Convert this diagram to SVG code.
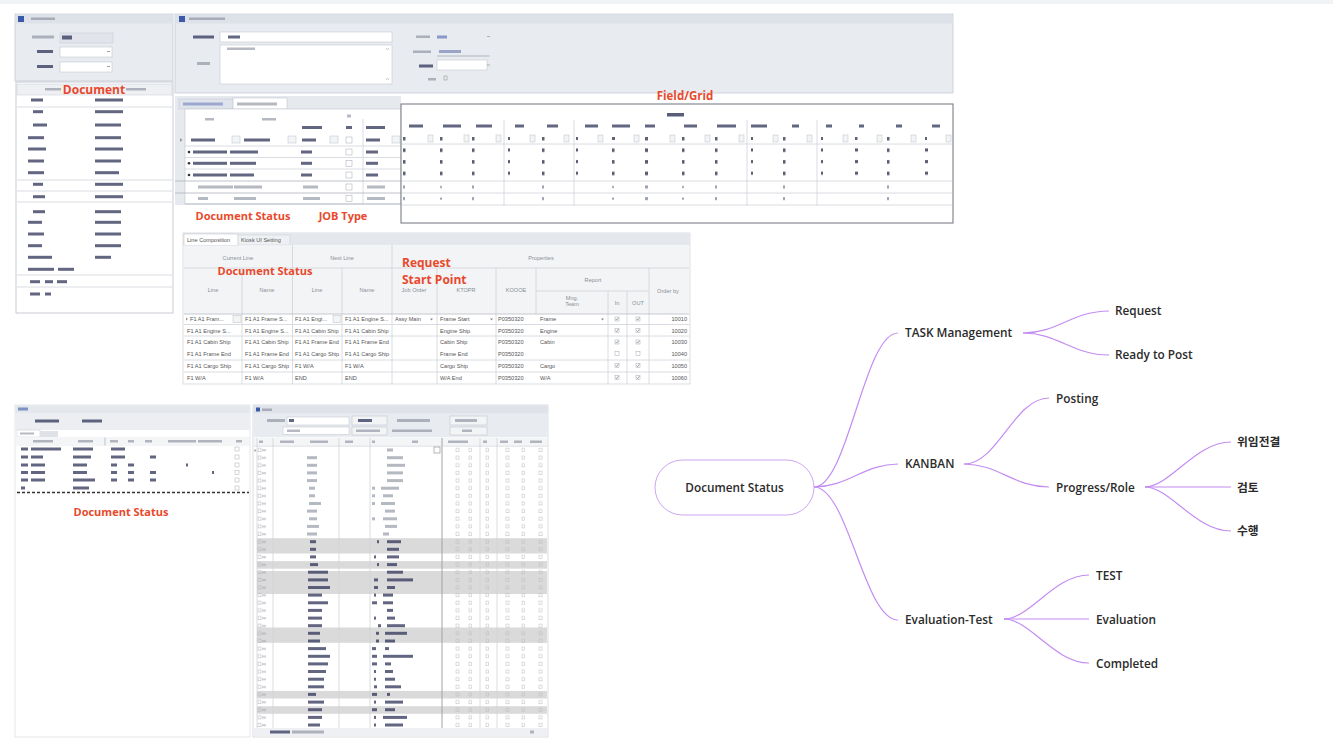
<svg xmlns="http://www.w3.org/2000/svg" xmlns:xlink="http://www.w3.org/1999/xlink" width="1333" height="749" viewBox="0 0 1333 749">
<style>
.b{fill:#7a8090;opacity:.55}
.bd{fill:#2e3458;opacity:.75}
.bl{fill:#9aa0ab;opacity:.4}
.ln{stroke:#cfd3d9;stroke-width:.8;fill:none}
.lnd{stroke:#aeb3bb;stroke-width:.8;fill:none}
.pan{fill:#e8ebf0;stroke:#c5cad3;stroke-width:.8}
.hdr{fill:#dde1e8}
.wbox{fill:#fff;stroke:#c3c8d0;stroke-width:.6}
.dd{fill:#f3f4f6;stroke:#b9bec7;stroke-width:.5}
.cb{fill:#fff;stroke:#a3a8b1;stroke-width:.5}
.red{font-family:"Open Sans","Liberation Sans",sans-serif;font-weight:700;fill:#e8492c}
.t{font-family:"Liberation Sans",Arial,sans-serif;font-size:5.6px;fill:#555}
.th{font-family:"Liberation Sans",Arial,sans-serif;font-size:5.6px;fill:#8a8f97}
.mm{font-family:"Open Sans","Noto Sans CJK KR",sans-serif;font-weight:600;font-size:11.8px;fill:#2b2b2b}
.cn{fill:none;stroke:#c38cf2;stroke-width:1.2}
</style>
<defs>
<g id="ck"><rect x="-2" y="-2" width="4" height="4" class="cb"/><polyline points="-1.3,0 -0.3,1.1 1.4,-1.3" fill="none" stroke="#666" stroke-width=".6"/></g>
<pattern id="brow" x="253" y="446.2" width="295" height="7.64" patternUnits="userSpaceOnUse">
<rect x="5" y="2" width="3" height="3.5" fill="none" stroke="#a9aeb6" stroke-width=".5"/>
<rect x="9" y="3" width="4" height="2" fill="#9aa0ab" opacity=".5"/>
<rect x="203" y="2" width="3" height="3.5" fill="none" stroke="#b5bac2" stroke-width=".5"/>
<rect x="216" y="2" width="2.5" height="3.5" fill="none" stroke="#b5bac2" stroke-width=".5"/>
<rect x="233" y="2" width="2.5" height="3.5" fill="none" stroke="#b5bac2" stroke-width=".5"/>
<rect x="253" y="2" width="3" height="3.5" fill="none" stroke="#b5bac2" stroke-width=".5"/>
<rect x="269" y="2" width="2.5" height="3.5" fill="none" stroke="#b5bac2" stroke-width=".5"/>
<rect x="286" y="2" width="3" height="3.5" fill="none" stroke="#b5bac2" stroke-width=".5"/>
</pattern>
<pattern id="fgr" x="401" y="144.5" width="552" height="11.6" patternUnits="userSpaceOnUse">
<g fill="#2b2f4a" opacity=".8">
<rect x="2" y="4" width="2.5" height="3.5"/><rect x="39" y="4" width="2.5" height="3.5"/><rect x="71" y="4" width="2.5" height="3.5"/><rect x="107" y="4" width="2" height="3"/><rect x="141" y="4" width="2.5" height="3.5"/><rect x="175" y="4" width="2" height="3"/><rect x="211" y="4" width="2.5" height="3.5"/><rect x="244" y="4" width="3" height="3.5"/><rect x="281" y="4" width="2.5" height="3.5"/><rect x="314" y="4" width="2.5" height="3.5"/><rect x="350" y="4" width="2" height="3"/><rect x="382" y="4" width="2.5" height="3.5"/><rect x="420" y="4" width="2" height="3"/><rect x="454" y="4" width="3" height="3"/><rect x="486" y="4" width="2.5" height="3.5"/><rect x="524" y="4" width="3" height="3"/>
</g>
</pattern>
<pattern id="fgr2" x="401" y="181.5" width="552" height="11.6" patternUnits="userSpaceOnUse">
<g fill="#4a5070" opacity=".55">
<rect x="2" y="4" width="2" height="3"/><rect x="39" y="4.5" width="2" height="2"/><rect x="71" y="4" width="2" height="3"/><rect x="141" y="4" width="2" height="3"/><rect x="211" y="4.5" width="2" height="2"/><rect x="244" y="4" width="3" height="3"/><rect x="281" y="4.5" width="2" height="2"/><rect x="314" y="4" width="2" height="3"/><rect x="382" y="4" width="2" height="3"/><rect x="486" y="4" width="2" height="3"/>
</g>
</pattern>
</defs>

<rect x="0" y="0" width="1333" height="749" fill="#fff"/>
<rect x="0" y="0" width="1333" height="4" fill="#f2f3f4"/>

<!-- ===== top-left filter panel ===== -->
<g id="screen-top-left">
<rect x="15" y="14" width="158" height="67" class="pan"/>
<rect x="15.4" y="14.4" width="157.2" height="9" class="hdr"/>
<rect x="18" y="16" width="6" height="6" fill="#3a5aa8"/>
<rect x="31" y="17.5" width="24" height="2.5" class="b"/>
<rect x="32" y="35.5" width="22" height="3" class="b"/>
<rect x="60" y="33" width="53" height="10" fill="#e1e5eb" stroke="#c3c8d0" stroke-width=".5"/>
<rect x="62" y="35.5" width="10" height="4" class="bd"/>
<rect x="37" y="50" width="16" height="3" class="bd"/>
<rect x="60" y="47" width="52" height="10" class="wbox"/>
<path d="M107,51.5h3" stroke="#888" stroke-width=".8"/>
<rect x="37" y="65" width="16" height="3" class="bd"/>
<rect x="60" y="62" width="52" height="10" class="wbox"/>
<path d="M107,66.5h3" stroke="#888" stroke-width=".8"/>
</g>

<!-- ===== top-left list panel ===== -->
<g id="screen-list">
<rect x="16" y="82" width="157" height="231" fill="#fff" stroke="#b9bfc9" stroke-width=".8"/>
<rect x="17" y="84" width="155" height="11" fill="#eef0f3" stroke="#c8ccd4" stroke-width=".5"/>
<rect x="45" y="88" width="16" height="2.5" class="b"/>
<rect x="126" y="88" width="20" height="2.5" class="b"/>
<g class="ln"><path d="M17,107h155M17,180h155M17,191h155M17,202h155M17,275h155M17,287h155"/></g>
<g class="bd">
<rect x="31" y="98.5" width="12" height="3"/><rect x="95" y="98.5" width="28" height="3"/>
<rect x="33" y="110.2" width="10" height="3"/><rect x="95" y="110.2" width="28" height="3"/>
<rect x="33" y="123.5" width="14" height="3"/><rect x="95" y="123.5" width="26" height="3"/>
<rect x="28" y="136.2" width="16" height="3"/><rect x="95" y="136.2" width="26" height="3"/>
<rect x="28" y="147.5" width="18" height="3"/><rect x="95" y="147.5" width="28" height="3"/>
<rect x="28" y="159.5" width="16" height="3"/><rect x="95" y="159.5" width="26" height="3"/>
<rect x="28" y="171.2" width="16" height="3"/><rect x="95" y="171.2" width="24" height="3"/>
<rect x="33" y="182.8" width="10" height="3"/><rect x="95" y="182.8" width="28" height="3"/>
<rect x="33" y="195.2" width="12" height="3"/><rect x="95" y="195.2" width="28" height="3"/>
<rect x="33" y="210.2" width="12" height="3"/><rect x="95" y="210.2" width="26" height="3"/>
<rect x="28" y="220.8" width="14" height="3"/><rect x="95" y="220.8" width="26" height="3"/>
<rect x="28" y="232.5" width="16" height="3"/><rect x="95" y="232.5" width="26" height="3"/>
<rect x="28" y="244.2" width="14" height="3"/><rect x="95" y="244.2" width="26" height="3"/>
<rect x="28" y="255.8" width="24" height="3"/><rect x="95" y="255.8" width="16" height="3"/>
<rect x="28" y="267.8" width="26" height="3"/><rect x="58" y="267.8" width="16" height="3"/>
<rect x="30" y="280.2" width="10" height="3"/><rect x="45" y="280.2" width="8" height="3"/><rect x="57" y="280.2" width="10" height="3"/>
<rect x="30" y="292.5" width="10" height="3"/><rect x="45" y="292.5" width="6" height="3"/>
</g>
</g>

<!-- ===== top-middle form panel ===== -->
<g id="screen-form">
<rect x="175" y="14" width="778" height="79" class="pan"/>
<rect x="175.4" y="14.4" width="777.2" height="9" class="hdr"/>
<rect x="179" y="16" width="6" height="6" fill="#3a5aa8"/>
<rect x="189" y="17.5" width="36" height="2.5" class="b"/>
<rect x="193" y="35.5" width="21" height="3" class="bd"/>
<rect x="220" y="32" width="172" height="10" class="wbox"/>
<rect x="228" y="35.5" width="12" height="3" class="bd"/>
<rect x="220" y="45" width="172" height="39" class="wbox"/>
<rect x="227" y="47.5" width="28" height="2.5" class="b"/>
<path d="M386,48l1.5,2 1.5,-2M386,80l1.5,-2 1.5,2" stroke="#aaa" stroke-width=".6" fill="none"/>
<rect x="197" y="62" width="13" height="3" class="b"/>
<rect x="416" y="35.5" width="14" height="2.5" class="b"/>
<rect x="437" y="35.5" width="10" height="3" fill="#4b5fb0" opacity=".6"/>
<path d="M487,36.5h3" stroke="#999" stroke-width=".7"/>
<rect x="413" y="50.5" width="18" height="2.5" class="b"/>
<rect x="439" y="50" width="22" height="3" fill="#5a6aa8" opacity=".55"/>
<path d="M437,56h53" stroke="#8c93a3" stroke-width=".6"/>
<rect x="419" y="64.5" width="14" height="3" class="bd"/>
<rect x="437" y="60" width="50" height="10" class="wbox"/>
<path d="M487,65h3" stroke="#999" stroke-width=".7"/>
<rect x="428" y="78" width="8" height="2.5" class="b"/>
<rect x="444" y="76" width="3" height="4" fill="none" stroke="#888" stroke-width=".5"/>
</g>

<!-- ===== job grid ===== -->
<g id="screen-jobgrid">
<rect x="175" y="96" width="226" height="13" fill="#e6e9ee"/>
<rect x="175" y="109" width="10" height="96" fill="#e6e9ee"/>
<rect x="179" y="99" width="54" height="10" fill="#dfe4ec" stroke="#c3c8d0" stroke-width=".5"/>
<rect x="183" y="102.5" width="40" height="3" fill="#4b5fb0" opacity=".45"/>
<rect x="233" y="98" width="54" height="11" fill="#fff" stroke="#b9bec7" stroke-width=".5"/>
<rect x="237" y="102.5" width="40" height="3" class="b"/>
<rect x="185" y="109" width="216" height="95" fill="#fff" stroke="#c0c5cd" stroke-width=".6"/>
<g class="b">
<rect x="205" y="118" width="9" height="2.5"/><rect x="262" y="118" width="14" height="2.5"/>
<rect x="347" y="114.5" width="4" height="3"/>
</g>
<g class="bd">
<rect x="302" y="126" width="20" height="3"/><rect x="346" y="126" width="6" height="3"/><rect x="366" y="126" width="19" height="3"/>
</g>
<g class="ln"><path d="M363,119v85M185,146h216M185,157.5h216M185,169h216"/></g>
<g class="lnd"><path d="M175,181h226M175,193h226M185,204h216"/></g>
<path d="M180,138l2.5,2-2.5,2z" fill="#999"/>
<g class="bd">
<rect x="191" y="138.5" width="24" height="3"/><rect x="244" y="138.5" width="26" height="3"/><rect x="302" y="138.5" width="14" height="3"/><rect x="366" y="138.5" width="14" height="3"/>
</g>
<g class="dd"><rect x="232" y="136" width="8" height="7"/><rect x="288" y="136" width="8" height="7"/><rect x="330" y="136" width="8" height="7"/><rect x="392" y="136" width="8" height="7"/></g>
<rect x="346" y="137" width="6" height="6" class="cb"/>
<g fill="#333"><circle cx="189" cy="152" r="1.3"/><circle cx="189" cy="163.3" r="1.3"/><circle cx="189" cy="175" r="1.3"/></g>
<g class="bd">
<rect x="193" y="150.5" width="34" height="3"/><rect x="230" y="150.5" width="28" height="3"/><rect x="301" y="150.5" width="11" height="3"/><rect x="366" y="150.5" width="12" height="3"/>
<rect x="193" y="161.8" width="34" height="3"/><rect x="230" y="161.8" width="26" height="3"/><rect x="301" y="161.8" width="11" height="3"/><rect x="366" y="161.8" width="12" height="3"/>
<rect x="193" y="173.5" width="34" height="3"/><rect x="230" y="173.5" width="24" height="3"/><rect x="301" y="173.5" width="11" height="3"/><rect x="366" y="173.5" width="12" height="3"/>
</g>
<g class="b">
<rect x="198" y="185.5" width="35" height="3"/><rect x="234" y="185.5" width="28" height="3"/><rect x="303" y="185.5" width="15" height="3"/><rect x="367" y="185.5" width="18" height="3"/>
<rect x="198" y="197" width="10" height="3"/><rect x="234" y="197" width="22" height="3"/><rect x="303" y="197" width="17" height="3"/><rect x="367" y="197" width="18" height="3"/>
</g>
<g class="cb"><rect x="346" y="149" width="6" height="6"/><rect x="346" y="160.5" width="6" height="6"/><rect x="346" y="172" width="6" height="6"/><rect x="346" y="184" width="6" height="6"/><rect x="346" y="195.5" width="6" height="6"/></g>
</g>

<!-- ===== field/grid ===== -->
<g id="screen-fieldgrid">
<rect x="401" y="104" width="552" height="119" fill="#fff" stroke="#7a7f88" stroke-width="1.1"/>
<rect x="667" y="113" width="17" height="3.5" fill="#2e3458" opacity=".8"/>
<g class="bd" opacity=".6">
<rect x="409" y="124.5" width="14" height="3"/><rect x="443" y="124.5" width="18" height="3"/><rect x="476" y="124.5" width="16" height="3"/>
<rect x="515" y="124.5" width="9" height="3"/><rect x="547" y="124.5" width="11" height="3"/>
<rect x="585" y="124.5" width="13" height="3"/><rect x="612" y="124.5" width="18" height="3"/><rect x="645" y="124.5" width="10" height="3"/><rect x="684" y="124.5" width="13" height="3"/><rect x="717" y="124.5" width="19" height="3"/>
<rect x="751" y="124.5" width="16" height="3"/><rect x="792" y="124.5" width="7" height="3"/>
<rect x="826" y="124.5" width="6" height="3"/><rect x="859" y="124.5" width="5" height="3"/><rect x="896" y="124.5" width="6" height="3"/><rect x="932" y="124.5" width="8" height="3"/>
</g>
<g class="ln"><path d="M504,120v86M574,120v86M747,120v86M817,120v86M402,144h550M402,181h550M402,193h550M402,205h550"/></g>
<g fill="#2b2f4a" opacity=".75">
<rect x="403" y="137" width="2.5" height="3.5"/><rect x="440" y="137" width="2.5" height="3.5"/><rect x="472" y="137" width="2.5" height="3.5"/><rect x="508" y="137" width="2" height="3"/><rect x="542" y="137" width="2.5" height="3.5"/><rect x="576" y="137" width="2" height="3"/><rect x="612" y="137" width="3" height="3"/><rect x="645" y="137" width="3" height="3.5"/><rect x="682" y="137" width="2.5" height="3.5"/><rect x="715" y="137" width="2.5" height="3.5"/><rect x="751" y="137" width="2" height="3"/><rect x="783" y="137" width="2.5" height="3.5"/><rect x="821" y="137" width="2" height="3"/><rect x="855" y="137" width="2.5" height="3"/><rect x="887" y="137" width="2.5" height="3.5"/><rect x="925" y="137" width="2" height="3"/>
</g>
<g class="dd">
<rect x="428" y="135" width="5" height="7"/><rect x="464" y="135" width="5" height="7"/><rect x="496" y="135" width="5" height="7"/><rect x="530" y="135" width="5" height="7"/><rect x="564" y="135" width="5" height="7"/><rect x="598" y="135" width="5" height="7"/><rect x="634" y="135" width="5" height="7"/><rect x="670" y="135" width="5" height="7"/><rect x="705" y="135" width="5" height="7"/><rect x="739" y="135" width="5" height="7"/><rect x="773" y="135" width="5" height="7"/><rect x="807" y="135" width="5" height="7"/><rect x="843" y="135" width="5" height="7"/><rect x="877" y="135" width="5" height="7"/><rect x="911" y="135" width="5" height="7"/><rect x="946" y="135" width="5" height="7"/>
</g>
<rect x="401.5" y="144.5" width="551" height="34.8" fill="url(#fgr)"/>
<rect x="401.5" y="181.5" width="551" height="23.2" fill="url(#fgr2)"/>
</g>

<!-- ===== line composition panel ===== -->
<g id="screen-linecomp">
<rect x="183" y="233" width="507" height="151" fill="#fff" stroke="#c0c5cd" stroke-width=".6"/>
<rect x="183.3" y="233.3" width="506.4" height="12" fill="#e4e7ec"/>
<rect x="184" y="234" width="54" height="11.5" fill="#fff" stroke="#b9bec7" stroke-width=".5"/>
<text x="187" y="242" class="t">Line Composition</text>
<rect x="238" y="235" width="52" height="10" fill="#eef0f3" stroke="#c9cdd4" stroke-width=".5"/>
<text x="241" y="242" class="t">Kiosk UI Setting</text>
<rect x="184" y="245.5" width="505" height="68.5" fill="#f3f4f6"/>
<g class="ln">
<path d="M242,268v116M292.5,245v139M342,268v116M392,245v139M437,268v116M496,268v116M536,268v46M608,291v93M627,291v93M649,268v116"/>
<path d="M184,268h505M536,291h113"/>
<path d="M184,324.5h505M184,336h505M184,360h505M184,372h505"/>
</g>
<path d="M184,314h505" stroke="#b7bcc4" stroke-width=".8"/>
<g class="th" text-anchor="middle">
<text x="238" y="260">Current Line</text><text x="342" y="260">Next Line</text><text x="541" y="260">Properties</text>
<text x="593" y="282">Report</text>
<text x="213" y="292">Line</text><text x="267" y="292">Name</text><text x="317" y="292">Line</text><text x="367" y="292">Name</text>
<text x="414" y="292">Job Order</text><text x="466" y="292">KTOPR</text><text x="516" y="292">KOOOE</text>
<text x="572" y="300">Mng.</text><text x="572" y="306">Team</text>
<text x="617" y="305">In</text><text x="638" y="305">OUT</text><text x="668" y="293">Order by</text>
</g>
<path d="M186,317.5l2,1.5-2,1.5z" fill="#999"/>
<g class="dd"><rect x="233" y="315.5" width="8" height="7"/><rect x="333" y="315.5" width="8" height="7"/></g>
<g class="t">
<text x="190" y="321">F1 A1 Fram...</text><text x="245" y="321">F1 A1 Frame S...</text><text x="295" y="321">F1 A1 Engi...</text><text x="345" y="321">F1 A1 Engine S...</text><text x="395" y="321">Assy Main</text><text x="440" y="321">Frame Start</text><text x="498" y="321">P0350320</text><text x="540" y="321">Frame</text>
<text x="187" y="332.5">F1 A1 Engine S...</text><text x="245" y="332.5">F1 A1 Engine S...</text><text x="295" y="332.5">F1 A1 Cabin Ship</text><text x="345" y="332.5">F1 A1 Cabin Ship</text><text x="440" y="332.5">Engine Ship</text><text x="498" y="332.5">P0350320</text><text x="540" y="332.5">Engine</text>
<text x="187" y="344">F1 A1 Cabin Ship</text><text x="245" y="344">F1 A1 Cabin Ship</text><text x="295" y="344">F1 A1 Frame End</text><text x="345" y="344">F1 A1 Frame End</text><text x="440" y="344">Cabin Ship</text><text x="498" y="344">P0350320</text><text x="540" y="344">Cabin</text>
<text x="187" y="355.5">F1 A1 Frame End</text><text x="245" y="355.5">F1 A1 Frame End</text><text x="295" y="355.5">F1 A1 Cargo Ship</text><text x="345" y="355.5">F1 A1 Cargo Ship</text><text x="440" y="355.5">Frame End</text><text x="498" y="355.5">P0350320</text>
<text x="187" y="367.5">F1 A1 Cargo Ship</text><text x="245" y="367.5">F1 A1 Cargo Ship</text><text x="295" y="367.5">F1 W/A</text><text x="345" y="367.5">F1 W/A</text><text x="440" y="367.5">Cargo Ship</text><text x="498" y="367.5">P0350320</text><text x="540" y="367.5">Cargo</text>
<text x="187" y="379.5">F1 W/A</text><text x="245" y="379.5">F1 W/A</text><text x="295" y="379.5">END</text><text x="345" y="379.5">END</text><text x="440" y="379.5">W/A End</text><text x="498" y="379.5">P0350320</text><text x="540" y="379.5">W/A</text>
</g>
<g class="t" text-anchor="end">
<text x="687" y="321">10010</text><text x="687" y="332.5">10020</text><text x="687" y="344">10030</text><text x="687" y="355.5">10040</text><text x="687" y="367.5">10050</text><text x="687" y="379.5">10060</text>
</g>
<g fill="#888"><path d="M430,318.5h3l-1.5,2z"/><path d="M490,318.5h3l-1.5,2z"/><path d="M601,318.5h3l-1.5,2z"/></g>
<use href="#ck" x="617" y="319"/><use href="#ck" x="638" y="319"/>
<use href="#ck" x="617" y="330.5"/><use href="#ck" x="638" y="330.5"/>
<use href="#ck" x="617" y="342"/><use href="#ck" x="638" y="342"/>
<rect x="615" y="351.5" width="4" height="4" class="cb"/><rect x="636" y="351.5" width="4" height="4" class="cb"/>
<use href="#ck" x="617" y="365.5"/><use href="#ck" x="638" y="365.5"/>
<use href="#ck" x="617" y="377.5"/><use href="#ck" x="638" y="377.5"/>
</g>

<!-- ===== bottom-left panel ===== -->
<g id="screen-bottom-left">
<rect x="15" y="405" width="235" height="332" fill="#fff" stroke="#d3d7dc" stroke-width=".6"/>
<rect x="15.3" y="405.3" width="234.4" height="8" fill="#e4e7ec"/>
<rect x="18" y="407.5" width="10" height="3" fill="#3a5aa8" opacity=".6"/>
<rect x="15.3" y="413" width="234.4" height="17" fill="#eceef1"/>
<rect x="35" y="419.5" width="24" height="3" class="bd"/>
<rect x="82" y="419.5" width="20" height="3" class="bd"/>
<rect x="17" y="430" width="23" height="7" fill="#fff" stroke="#c3c8d0" stroke-width=".5"/>
<rect x="20" y="432.5" width="14" height="2" class="b"/>
<rect x="40" y="431" width="18" height="6" fill="#dfe2e7"/>
<rect x="16" y="437" width="233" height="9" fill="#f4f5f7"/>
<path d="M105,437.5v8" class="lnd"/>
<g class="b">
<rect x="33" y="440" width="20" height="2.5"/><rect x="78" y="440" width="15" height="2.5"/><rect x="110" y="440" width="8" height="2.5"/><rect x="128" y="440" width="6" height="2.5"/><rect x="145" y="440" width="7" height="2.5"/><rect x="168" y="440" width="28" height="2.5"/><rect x="198" y="440" width="24" height="2.5"/><rect x="236" y="440" width="6" height="2.5"/>
</g>
<g class="bd" opacity=".55">
<rect x="21" y="447.5" width="7" height="3"/><rect x="31" y="447.5" width="30" height="3"/><rect x="73" y="447.5" width="20" height="3"/><rect x="111" y="447.5" width="14" height="3"/>
<rect x="21" y="455.5" width="7" height="3"/><rect x="31" y="455.5" width="12" height="3"/><rect x="73" y="455.5" width="18" height="3"/><rect x="111" y="455.5" width="14" height="3"/><rect x="150" y="455.5" width="6" height="3"/>
<rect x="21" y="463.5" width="7" height="3"/><rect x="31" y="463.5" width="14" height="3"/><rect x="73" y="463.5" width="14" height="3"/><rect x="111" y="463.5" width="6" height="3"/><rect x="128" y="463.5" width="6" height="3"/><rect x="186" y="463.5" width="2" height="3"/>
<rect x="21" y="471" width="7" height="3"/><rect x="31" y="471" width="14" height="3"/><rect x="73" y="471" width="14" height="3"/><rect x="111" y="471" width="6" height="3"/><rect x="128" y="471" width="6" height="3"/><rect x="150" y="471" width="6" height="3"/><rect x="212" y="471" width="2" height="3"/>
<rect x="21" y="478.5" width="7" height="3"/><rect x="31" y="478.5" width="14" height="3"/><rect x="73" y="478.5" width="22" height="3"/><rect x="111" y="478.5" width="6" height="3"/><rect x="128" y="478.5" width="6" height="3"/><rect x="150" y="478.5" width="6" height="3"/>
<rect x="21" y="486.5" width="4" height="3"/><rect x="73" y="486.5" width="16" height="3"/>
</g>
<g fill="none" stroke="#a9aeb6" stroke-width=".5">
<rect x="235" y="447" width="4" height="4"/><rect x="235" y="455" width="4" height="4"/><rect x="235" y="463" width="4" height="4"/><rect x="235" y="470.5" width="4" height="4"/><rect x="235" y="478" width="4" height="4"/><rect x="235" y="486" width="4" height="4"/>
</g>
<path d="M17,492.5h232" stroke="#333" stroke-width="1.3" stroke-dasharray="3,2"/>
</g>

<!-- ===== bottom-right panel ===== -->
<g id="screen-bottom-right">
<rect x="253" y="405" width="295" height="332" fill="#fff" stroke="#c0c5cd" stroke-width=".6"/>
<rect x="253.3" y="405.3" width="294.4" height="32" fill="#e8ebf0"/>
<rect x="253.3" y="405.3" width="294.4" height="8" fill="#dfe3e9"/>
<rect x="256" y="407.5" width="4" height="4" fill="#3a5aa8"/>
<rect x="262" y="408.5" width="10" height="2.5" class="b"/>
<rect x="267" y="419" width="18" height="3" class="b"/>
<rect x="287" y="417" width="62" height="8" class="wbox"/>
<rect x="289" y="419" width="5" height="3" class="bd"/>
<rect x="352" y="416" width="35" height="9" class="dd"/>
<rect x="358" y="419" width="14" height="3" class="bd"/>
<rect x="397" y="419" width="33" height="3" class="b"/>
<rect x="450" y="416" width="37" height="9" class="dd"/>
<rect x="455" y="419" width="22" height="3" class="b"/>
<rect x="283" y="427" width="66" height="7.5" class="wbox"/>
<rect x="287" y="429.5" width="13" height="2.5" class="b"/>
<rect x="352" y="427" width="35" height="8" class="dd"/>
<rect x="356" y="429.5" width="24" height="2.5" class="b"/>
<rect x="392" y="429.5" width="40" height="2.5" class="b"/>
<rect x="450" y="427" width="37" height="8" class="dd"/>
<rect x="462" y="429.5" width="10" height="2.5" class="b"/>
<rect x="254" y="438" width="293" height="8" fill="#f4f5f7"/>
<g class="b">
<rect x="259" y="440.5" width="4" height="2.5"/><rect x="280" y="440.5" width="14" height="2.5"/><rect x="310" y="440.5" width="18" height="2.5"/><rect x="345" y="440.5" width="8" height="2.5"/><rect x="372" y="440.5" width="3" height="2.5"/><rect x="412" y="440.5" width="6" height="2.5"/><rect x="448" y="440.5" width="20" height="2.5"/><rect x="483" y="440.5" width="4" height="2.5"/><rect x="500" y="440.5" width="8" height="2.5"/><rect x="514" y="440.5" width="8" height="2.5"/><rect x="530" y="440.5" width="12" height="2.5"/>
</g>
<g fill="#dadada">
<rect x="257" y="538.2" width="290" height="15.3"/>
<rect x="257" y="561.1" width="290" height="7.6"/>
<rect x="257" y="571" width="290" height="23"/>
<rect x="257" y="627.5" width="290" height="15.3"/>
<rect x="257" y="690.9" width="290" height="7.6"/>
<rect x="257" y="706.2" width="290" height="7.6"/>
</g>
<rect x="257" y="446.2" width="290" height="282" fill="url(#brow)"/>
<g class="ln"><path d="M257,438v290M273,438v290M339,438v290M370,438v290M480,438v290M497,438v290"/></g>
<path d="M442,438v290" stroke="#9ea3ab" stroke-width="1"/>
<path d="M254,446.2h293" stroke="#c8ccd3" stroke-width=".6"/>
<path d="M254.5,449l2,1.5-2,1.5z" fill="#999"/>
<rect x="434" y="447" width="6" height="6" fill="none" stroke="#888" stroke-width=".6"/>
<g class="b" opacity=".4">
<rect x="387" y="448.5" width="6" height="3"/>
<rect x="307" y="456.2" width="10" height="3"/><rect x="387" y="456.2" width="16" height="3"/>
<rect x="307" y="463.8" width="10" height="3"/><rect x="387" y="463.8" width="18" height="3"/>
<rect x="307" y="471.4" width="10" height="3"/><rect x="387" y="471.4" width="16" height="3"/>
<rect x="307" y="479.1" width="10" height="3"/><rect x="387" y="479.1" width="16" height="3"/>
<rect x="309" y="486.7" width="6" height="3"/><rect x="372" y="486.7" width="3" height="3"/><rect x="381" y="486.7" width="18" height="3"/>
<rect x="309" y="494.3" width="6" height="3"/><rect x="372" y="494.3" width="3" height="3"/><rect x="383" y="494.3" width="10" height="3"/>
<rect x="309" y="502" width="12" height="3"/><rect x="372" y="502" width="3" height="3"/><rect x="381" y="502" width="14" height="3"/>
<rect x="307" y="509.6" width="10" height="3"/><rect x="385" y="509.6" width="10" height="3"/>
<rect x="309" y="517.3" width="8" height="3"/><rect x="372" y="517.3" width="3" height="3"/><rect x="383" y="517.3" width="14" height="3"/>
<rect x="307" y="524.9" width="12" height="3"/><rect x="385" y="524.9" width="12" height="3"/>
<rect x="307" y="532.5" width="10" height="3"/><rect x="383" y="532.5" width="6" height="3"/>
</g>
<g class="bd" opacity=".45">
<rect x="310" y="540.2" width="6" height="3"/><rect x="377" y="540.2" width="2" height="3"/><rect x="387" y="540.2" width="14" height="3"/>
<rect x="310" y="547.8" width="6" height="3"/><rect x="387" y="547.8" width="12" height="3"/>
<rect x="310" y="555.4" width="6" height="3"/><rect x="374" y="555.4" width="2" height="3"/><rect x="387" y="555.4" width="12" height="3"/>
<rect x="310" y="563.1" width="8" height="3"/><rect x="377" y="563.1" width="2" height="3"/><rect x="387" y="563.1" width="10" height="3"/>
<rect x="308" y="570.7" width="20" height="3"/><rect x="387" y="570.7" width="16" height="3"/>
<rect x="308" y="578.4" width="20" height="3"/><rect x="374" y="578.4" width="4" height="3"/><rect x="387" y="578.4" width="26" height="3"/>
<rect x="308" y="586" width="22" height="3"/><rect x="374" y="586" width="4" height="3"/><rect x="387" y="586" width="8" height="3"/>
<rect x="308" y="593.6" width="14" height="3"/><rect x="374" y="593.6" width="2" height="3"/><rect x="383" y="593.6" width="10" height="3"/>
<rect x="308" y="601.3" width="20" height="3"/><rect x="372" y="601.3" width="5" height="3"/><rect x="383" y="601.3" width="10" height="3"/>
<rect x="308" y="608.9" width="14" height="3"/><rect x="387" y="608.9" width="6" height="3"/>
<rect x="308" y="616.6" width="14" height="3"/><rect x="374" y="616.6" width="2" height="3"/><rect x="387" y="616.6" width="8" height="3"/>
<rect x="308" y="624.2" width="14" height="3"/><rect x="378" y="624.2" width="3" height="3"/><rect x="387" y="624.2" width="18" height="3"/>
<rect x="308" y="631.8" width="12" height="3"/><rect x="376" y="631.8" width="3" height="3"/><rect x="385" y="631.8" width="22" height="3"/>
<rect x="308" y="639.5" width="12" height="3"/><rect x="376" y="639.5" width="3" height="3"/><rect x="385" y="639.5" width="10" height="3"/>
<rect x="308" y="647.1" width="18" height="3"/><rect x="372" y="647.1" width="4" height="3"/><rect x="385" y="647.1" width="4" height="3"/>
<rect x="308" y="654.8" width="22" height="3"/><rect x="372" y="654.8" width="5" height="3"/><rect x="383" y="654.8" width="30" height="3"/>
<rect x="308" y="662.4" width="20" height="3"/><rect x="372" y="662.4" width="5" height="3"/><rect x="385" y="662.4" width="6" height="3"/>
<rect x="308" y="670" width="18" height="3"/><rect x="374" y="670" width="2" height="3"/><rect x="385" y="670" width="8" height="3"/>
<rect x="308" y="677.7" width="16" height="3"/><rect x="374" y="677.7" width="2" height="3"/><rect x="385" y="677.7" width="10" height="3"/>
<rect x="308" y="685.3" width="16" height="3"/><rect x="374" y="685.3" width="3" height="3"/><rect x="385" y="685.3" width="16" height="3"/>
<rect x="308" y="692.9" width="8" height="3"/><rect x="372" y="692.9" width="5" height="3"/><rect x="387" y="692.9" width="3" height="3"/>
<rect x="308" y="700.6" width="16" height="3"/><rect x="374" y="700.6" width="2" height="3"/><rect x="385" y="700.6" width="18" height="3"/>
<rect x="308" y="708.2" width="14" height="3"/><rect x="372" y="708.2" width="5" height="3"/><rect x="385" y="708.2" width="10" height="3"/>
<rect x="308" y="715.9" width="14" height="3"/><rect x="374" y="715.9" width="2" height="3"/><rect x="383" y="715.9" width="24" height="3"/>
<rect x="308" y="723.5" width="12" height="3"/><rect x="374" y="723.5" width="2" height="3"/><rect x="385" y="723.5" width="18" height="3"/>
</g>
<rect x="254" y="728" width="293" height="8" fill="#eef0f3"/>
<rect x="270" y="730.5" width="20" height="3" class="bd"/>
<rect x="292" y="730.5" width="32" height="3" class="b"/>
<rect x="530" y="730.5" width="4" height="3" class="b"/>
</g>

<!-- ===== red annotation labels ===== -->
<g id="annotations">
<text x="94" y="94" class="red" font-size="12" text-anchor="middle">Document</text>
<text x="685" y="100" class="red" font-size="11.5" text-anchor="middle">Field/Grid</text>
<text x="243" y="220" class="red" font-size="11" text-anchor="middle">Document Status</text>
<text x="343" y="220" class="red" font-size="11" text-anchor="middle">JOB Type</text>
<text x="265" y="275" class="red" font-size="11" text-anchor="middle">Document Status</text>
<text x="402" y="267" class="red" font-size="12">Request</text>
<text x="402" y="284" class="red" font-size="12">Start Point</text>
<text x="121" y="516" class="red" font-size="11" text-anchor="middle">Document Status</text>
</g>

<!-- ===== mind map ===== -->
<g id="connectors">
<path class="cn" d="M814,487C848,487 864,333 898,333"/>
<path class="cn" d="M814,487C848,487 864,464 898,464"/>
<path class="cn" d="M814,487C848,487 864,620 898,620"/>
<path class="cn" d="M1023,333C1058,333 1072,311 1109,311"/>
<path class="cn" d="M1023,333C1058,333 1072,355 1109,355"/>
<path class="cn" d="M964,464C998,464 1014,398 1049,398"/>
<path class="cn" d="M964,464C998,464 1014,487 1049,487"/>
<path class="cn" d="M1145,487C1170,487 1195,442 1231,442"/>
<path class="cn" d="M1145,487H1231"/>
<path class="cn" d="M1145,487C1170,487 1195,531 1231,531"/>
<path class="cn" d="M1004,619C1030,619 1054,575 1089,575"/>
<path class="cn" d="M1004,619H1089"/>
<path class="cn" d="M1004,619C1030,619 1054,663 1089,663"/>
</g>
<g id="node-root">
<rect x="655" y="460" width="159" height="55" rx="27.5" fill="#fff" stroke="#cda6f2" stroke-width="1"/>
<text x="734.5" y="492" class="mm" text-anchor="middle">Document Status</text>
</g>
<g id="node-task"><text x="905" y="337" class="mm">TASK Management</text></g>
<g id="node-request"><text x="1115" y="315" class="mm">Request</text></g>
<g id="node-ready"><text x="1115" y="359" class="mm">Ready to Post</text></g>
<g id="node-kanban"><text x="905" y="468" class="mm">KANBAN</text></g>
<g id="node-posting"><text x="1056" y="403" class="mm">Posting</text></g>
<g id="node-progress"><text x="1056" y="492" class="mm">Progress/Role</text></g>
<g id="node-delegation"><text x="1237" y="446" class="mm">위임전결</text></g>
<g id="node-review"><text x="1237" y="492" class="mm">검토</text></g>
<g id="node-perform"><text x="1237" y="535" class="mm">수행</text></g>
<g id="node-evaltest"><text x="905" y="624" class="mm">Evaluation-Test</text></g>
<g id="node-test"><text x="1096" y="580" class="mm">TEST</text></g>
<g id="node-evaluation"><text x="1096" y="624" class="mm">Evaluation</text></g>
<g id="node-completed"><text x="1096" y="668" class="mm">Completed</text></g>
</svg>
